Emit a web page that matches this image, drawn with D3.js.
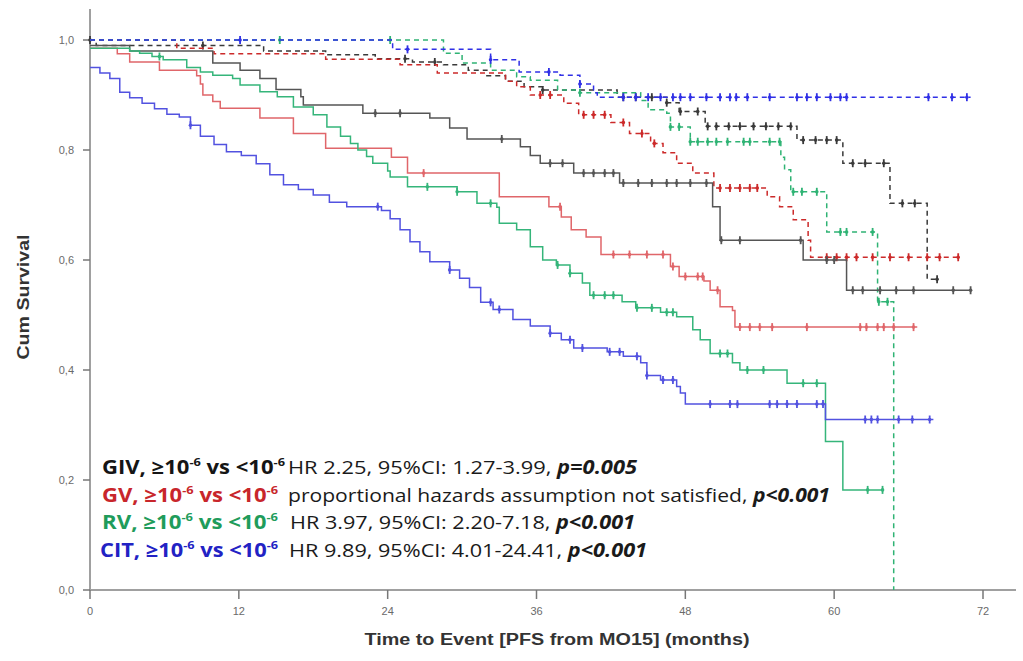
<!DOCTYPE html>
<html>
<head>
<meta charset="utf-8">
<script src="https://cdn.jsdelivr.net/npm/d3@7"></script>
<style>
	body { margin: 0; background: #fff; }
	svg { display: block; }
	.tick-label { font-family: "Liberation Sans", Arial, sans-serif; font-size: 11px; fill: #6a6a6a; }
	.axis-title { font-family: "Liberation Sans", Arial, sans-serif; font-size: 16px; font-weight: bold; fill: #333; }
	.legend { font-family: "Open Sans", Lato, sans-serif; font-size: 19px; }
</style>
</head>
<body>
<svg width="1023" height="661"></svg>
<script>
'use strict';

// x ticks (months) and y ticks (cum survival)
const xTicks = [0, 12, 24, 36, 48, 60, 72];
const yTicks = [0, 0.2, 0.4, 0.6, 0.8, 1.0];

// step curves: [time, survival after event]; last entry is the end of follow-up
const givHigh = [[0,0.99],[3.2,0.98],[9.9,0.958],[12.1,0.945],[13.7,0.93],[15,0.91],[17,0.897],[17.2,0.882],[22,0.867],[27.4,0.858],[29,0.84],[30.4,0.82],[34.7,0.806],[35.5,0.79],[36.3,0.776],[39,0.758],[42.7,0.74],[50.2,0.697],[50.8,0.636],[57.5,0.6],[61,0.545],[71,0.545]];
const givLow = [[0,1],[0.5,0.99],[14,0.98],[19,0.973],[23,0.966],[26,0.96],[28.5,0.955],[30.5,0.945],[32,0.935],[33.5,0.925],[35,0.915],[36.5,0.909],[42.5,0.896],[46.5,0.886],[47.5,0.87],[49.6,0.843],[57,0.818],[60.7,0.776],[64.5,0.703],[67.5,0.565],[68.5,0.565]];
const gvHigh = [[0,0.985],[2.2,0.975],[3.2,0.96],[5.6,0.945],[8.6,0.935],[8.9,0.92],[9.1,0.9],[9.9,0.888],[10.5,0.876],[13.7,0.858],[16.4,0.83],[19,0.803],[24.3,0.787],[25.6,0.758],[33,0.715],[37,0.697],[38,0.678],[38.8,0.655],[40,0.642],[41.2,0.61],[46.8,0.588],[47.5,0.57],[49.5,0.562],[50,0.545],[50.8,0.515],[51.8,0.508],[52,0.478],[66.7,0.478]];
const gvLow = [[0,1],[7,0.985],[10,0.975],[19,0.965],[25,0.955],[28,0.94],[33.5,0.925],[34.4,0.915],[35.5,0.9],[38.2,0.885],[39.4,0.864],[42,0.85],[43.5,0.83],[45.2,0.812],[46.2,0.795],[47.3,0.776],[48.6,0.758],[50.3,0.731],[54.6,0.715],[55.6,0.697],[56.7,0.673],[57.9,0.636],[58.1,0.605],[70.2,0.605]];
const rvHigh = [[0,0.985],[3.2,0.98],[4,0.976],[5,0.97],[5.9,0.964],[7.8,0.95],[8.9,0.942],[9.9,0.936],[11.5,0.93],[12.1,0.918],[13.7,0.906],[15.1,0.897],[16.4,0.878],[18,0.864],[19.1,0.842],[20.2,0.825],[21,0.812],[21.6,0.8],[22.3,0.788],[22.8,0.776],[24,0.762],[24.2,0.751],[25.6,0.733],[29.6,0.724],[31.2,0.703],[32.8,0.696],[33,0.667],[34.4,0.655],[35.5,0.624],[36.5,0.6],[37.6,0.591],[38.7,0.576],[39.7,0.558],[40.3,0.536],[42.9,0.524],[44,0.513],[46,0.505],[47.3,0.497],[48.6,0.473],[49.2,0.455],[50,0.43],[51.8,0.413],[52.4,0.4],[56.2,0.376],[59.3,0.27],[60.7,0.182],[64,0.182]];
const rvLow = [[0,1],[28.5,0.976],[30,0.958],[32.3,0.945],[34.4,0.933],[35.5,0.927],[37.7,0.909],[39.5,0.904],[44.4,0.89],[45,0.873],[46.5,0.867],[46.8,0.842],[48.4,0.815],[55.7,0.787],[56,0.764],[56.5,0.724],[59.4,0.651],[63.5,0.524],[64.8,0],[64.8,0]];
const citHigh = [[0,0.95],[0.8,0.94],[1.6,0.93],[2.4,0.905],[3.2,0.895],[4.2,0.885],[5.2,0.875],[6.2,0.865],[7.2,0.86],[8.1,0.845],[8.9,0.825],[10,0.81],[11,0.797],[12.2,0.79],[13.4,0.775],[14.5,0.755],[15.6,0.737],[16.8,0.728],[18,0.718],[19.3,0.705],[20.7,0.697],[23.5,0.69],[24.2,0.675],[25,0.655],[25.8,0.633],[26.6,0.615],[27.4,0.597],[29,0.582],[29.8,0.567],[30.6,0.55],[31.5,0.523],[32.5,0.51],[34.1,0.492],[35.5,0.48],[37.1,0.467],[38,0.455],[39,0.44],[41.7,0.433],[43,0.425],[44.4,0.413],[44.9,0.39],[46,0.382],[47.3,0.37],[47.6,0.358],[48,0.338],[59.3,0.31],[68,0.31]];
const citLow = [[0,1],[24.4,0.983],[32.3,0.964],[34.6,0.942],[37.9,0.936],[39.5,0.92],[40.6,0.904],[40.9,0.896],[71,0.896]];

// censoring times (months)
const givHighCens = [23, 25, 33.2, 37.1, 38.1, 39.8, 40.6, 41.5, 42.2, 43, 44.2, 45.3, 46.5, 47.3, 48.4, 49.7, 50.9, 52.4, 57.3, 59.4, 60, 61.5, 62.3, 63.7, 65, 66.4, 69.6, 71];
const givLowCens = [0, 9.1, 25.4, 27.8, 36.5, 43, 44, 45.3, 46.5, 47.6, 49, 49.8, 50.5, 51.5, 52.4, 53.5, 54.5, 55.5, 56.5, 57.5, 58.5, 59.4, 60.2, 61.5, 62.5, 64, 65.5, 66.5, 68.3];
const gvHighCens = [26.9, 37.9, 42.2, 43.5, 44.9, 46.2, 47, 48, 49, 49.4, 50.6, 52.4, 53.2, 54, 55, 57.8, 62.1, 62.6, 63.5, 64, 64.8, 66.4];
const gvLowCens = [36.3, 37.1, 39.8, 40.6, 41.5, 43, 44.5, 45.5, 50.8, 51.6, 52.4, 53.2, 53.8, 59.4, 60.2, 61, 61.8, 63.1, 64.5, 66, 67.5, 68.5, 70];
const rvHighCens = [5.6, 27.2, 29.6, 32.3, 37.7, 38.7, 40.6, 41.5, 42.2, 44.1, 45.3, 46.5, 47, 50.8, 51.4, 53, 54.3, 57.5, 58.6, 62.7, 63.9];
const rvLowCens = [15.3, 24.2, 39.5, 46.8, 47.5, 48.4, 49, 49.8, 50.5, 51.4, 52.7, 53.2, 54.8, 55.6, 56.7, 57.4, 58.6, 60.5, 61, 63.1, 63.6, 64.3];
const citHighCens = [8.1, 23.2, 29, 32.3, 33, 37.1, 38.7, 39.7, 41.9, 42.7, 44.1, 44.9, 46.2, 47, 50, 51.6, 52.2, 54.8, 55.4, 56.2, 57, 58.6, 59.1, 62.5, 63, 63.5, 65.2, 66.3, 67.7];
const citLowCens = [12.1, 25.6, 32.3, 37, 39.5, 43, 44, 45, 46, 47, 47.6, 48.4, 49.7, 50.8, 51.6, 52.1, 53, 54.8, 57, 57.8, 58.6, 59.7, 60.5, 61, 67.6, 69.5, 70.7];

// legend rows
const legendNames = ["GIV", "GV", "RV", "CIT"];
const legendStats = ["HR 2.25, 95%CI: 1.27-3.99, ", "proportional hazards assumption not satisfied, ", "HR 3.97, 95%CI: 2.20-7.18, ", "HR 9.89, 95%CI: 4.01-24.41, "];
const legendP = ["p=0.005", "p<0.001", "p<0.001", "p<0.001"];
const legendColors = ["#151515", "#c8262b", "#1f9c5b", "#2222c4"];

const series = [
	{data: givLow, cens: givLowCens, color: "#3a3a3a", dash: "5,4"},
	{data: gvLow, cens: gvLowCens, color: "#cc2a2a", dash: "5,4"},
	{data: rvLow, cens: rvLowCens, color: "#2fb374", dash: "5,4"},
	{data: citLow, cens: citLowCens, color: "#3030e6", dash: "5,4"},
	{data: givHigh, cens: givHighCens, color: "#555555", dash: null},
	{data: gvHigh, cens: gvHighCens, color: "#e0666a", dash: null},
	{data: rvHigh, cens: rvHighCens, color: "#35b57a", dash: null},
	{data: citHigh, cens: citHighCens, color: "#5252e0", dash: null}
];

const svg = d3.select("svg");
const x = d3.scaleLinear().domain([0, 72]).range([90, 983]);
const y = d3.scaleLinear().domain([0, 1]).range([590, 40]);

// axes
const axisColor = "#a0a0a0";
svg.append("line").attr("x1", 90).attr("x2", 90).attr("y1", 9).attr("y2", 591)
	.attr("stroke", axisColor).attr("stroke-width", 2);
svg.append("line").attr("x1", 89).attr("x2", 1016).attr("y1", 590).attr("y2", 590)
	.attr("stroke", axisColor).attr("stroke-width", 2);

const yAxis = svg.append("g");
yAxis.selectAll("line").data(yTicks).enter().append("line")
	.attr("x1", 83).attr("x2", 90)
	.attr("y1", d => y(d)).attr("y2", d => y(d))
	.attr("stroke", "#777").attr("stroke-width", 1.5);
yAxis.selectAll("text").data(yTicks).enter().append("text")
	.attr("class", "tick-label")
	.attr("x", 74).attr("y", d => y(d) + 4)
	.attr("text-anchor", "end")
	.text(d => d3.format(".1f")(d).replace(".", ","));

const xAxis = svg.append("g");
xAxis.selectAll("line").data(xTicks).enter().append("line")
	.attr("x1", d => x(d)).attr("x2", d => x(d))
	.attr("y1", 590).attr("y2", 599)
	.attr("stroke", "#777").attr("stroke-width", 1.5);
xAxis.selectAll("text").data(xTicks).enter().append("text")
	.attr("class", "tick-label")
	.attr("x", d => x(d)).attr("y", 615)
	.attr("text-anchor", "middle")
	.text(d => d);

svg.append("text").attr("class", "axis-title")
	.attr("transform", "translate(29,297) rotate(-90)")
	.attr("text-anchor", "middle")
	.attr("textLength", 125).attr("lengthAdjust", "spacingAndGlyphs")
	.text("Cum Survival");
svg.append("text").attr("class", "axis-title")
	.attr("x", 557).attr("y", 645)
	.attr("text-anchor", "middle")
	.attr("textLength", 385).attr("lengthAdjust", "spacingAndGlyphs")
	.text("Time to Event [PFS from MO15] (months)");

// curves
const line = d3.line()
	.x(d => x(d[0]))
	.y(d => y(d[1]))
	.curve(d3.curveStepAfter);

function survAt(data, t) {
	let s = data[0][1];
	data.forEach(d => { if (d[0] <= t) s = d[1]; });
	return s;
}

series.forEach(s => {
	const g = svg.append("g");
	g.append("path")
		.attr("d", line(s.data))
		.attr("fill", "none")
		.attr("stroke", s.color)
		.attr("stroke-width", 1.5)
		.attr("stroke-dasharray", s.dash);
	const marks = g.selectAll("g").data(s.cens).enter().append("g")
		.attr("transform", d => `translate(${x(d)},${y(survAt(s.data, d))})`);
	marks.append("line")
		.attr("y1", -4).attr("y2", 4)
		.attr("stroke", s.color)
		.attr("stroke-width", 1.8);
	marks.append("circle")
		.attr("r", 1.8)
		.attr("fill", s.color);
});

// legend
const rowY = [474, 502, 529, 557];
const nameX = [102, 102, 102, 100];
const nameW = [183, 176, 176, 178];
const statX = [288, 288, 290, 289];
const statW = [349, 542, 345, 358];
legendNames.forEach((name, i) => {
	const t = svg.append("text").attr("class", "legend")
		.attr("x", nameX[i]).attr("y", rowY[i])
		.attr("textLength", nameW[i]).attr("lengthAdjust", "spacingAndGlyphs")
		.attr("fill", legendColors[i]).attr("font-weight", "bold");
	t.append("tspan").text(name + ", \u226510");
	t.append("tspan").attr("font-size", 11).attr("dy", -8).text("-6");
	t.append("tspan").attr("dy", 8).text(" vs <10");
	t.append("tspan").attr("font-size", 11).attr("dy", -8).text("-6");

	const s = svg.append("text").attr("class", "legend")
		.attr("x", statX[i]).attr("y", rowY[i])
		.attr("textLength", statW[i]).attr("lengthAdjust", "spacingAndGlyphs")
		.attr("fill", "#1a1a1a");
	s.append("tspan").text(legendStats[i]);
	s.append("tspan").attr("font-weight", "bold").attr("font-style", "italic").text(legendP[i]);
});
</script>
</body>
</html>
